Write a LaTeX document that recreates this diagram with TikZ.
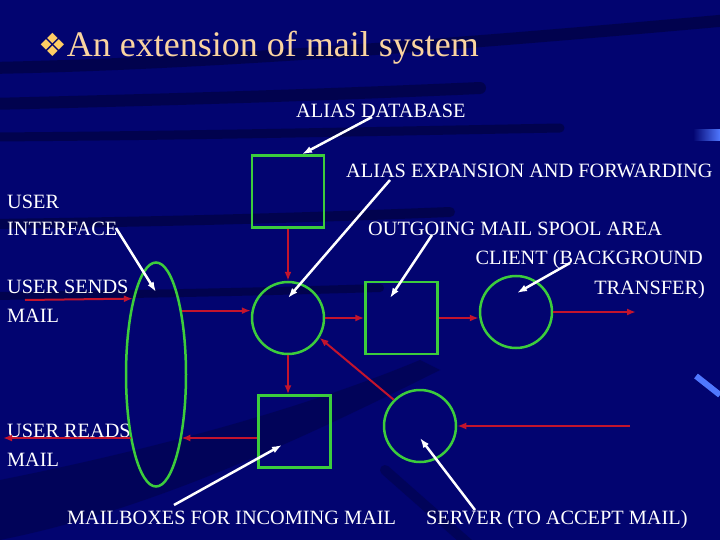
\documentclass[tikz,border=0pt]{standalone}
\usepackage{fontspec}
\setmainfont{Liberation Serif}
\newfontfamily\symfont{DejaVu Sans}
\usetikzlibrary{arrows.meta,shapes.geometric}
\definecolor{navy}{RGB}{2,4,112}
\definecolor{boxgreen}{RGB}{60,205,60}
\definecolor{flowred}{RGB}{195,20,45}
\definecolor{titlec}{RGB}{250,212,160}
\definecolor{bulletc}{RGB}{255,205,100}
\definecolor{glow}{RGB}{80,120,255}
\tikzset{
	box/.style={draw=boxgreen, line width=2.5pt, minimum size=72pt, inner sep=0pt},
	ring/.style={circle, box},
	flow/.style={->, draw=flowred, line width=2pt},
	pointer/.style={-{Latex[length=10pt,width=7pt]}, draw=white, line width=2.5pt},
	lbl/.style={text=white, inner sep=0pt, anchor=base west,
		font=\fontsize{20.3}{24}\selectfont},
}
\begin{document}
\begin{tikzpicture}[x=1pt, y=-1pt, >={Latex[length=9pt,width=7pt]}]
	% 背景
	\fill[navy] (0, 0) rectangle (720, 540);
	\useasboundingbox (0, 0) rectangle (720, 540);
	\begin{scope}[black, opacity=0.3, line cap=round]
		\draw[line width=12pt] (-10, 68) .. controls (200, 64) and (450, 45) .. (730, 20);
		\draw[line width=12pt] (-10, 104) .. controls (150, 100) and (300, 96) .. (480, 88);
		\draw[line width=9pt] (-10, 137) .. controls (150, 136) and (300, 133) .. (560, 128);
		\draw[line width=10pt] (-10, 224) .. controls (150, 222) and (300, 218) .. (450, 212);
		\draw[line width=8pt] (-10, 296) .. controls (150, 294) and (250, 292) .. (380, 288);
	\end{scope}
	\begin{scope}[black, opacity=0.2]
		\fill (0, 480) .. controls (150, 450) and (300, 410) .. (420, 360)
			-- (440, 370) .. controls (300, 440) and (150, 510) .. (0, 540) -- cycle;
		\draw[line width=10pt, line cap=round] (385, 470) -- (470, 545);
	\end{scope}
	\shade[left color=navy, right color=glow] (693, 130) rectangle (720, 141);
	\draw[glow, line width=6pt] (696, 376) -- (720, 395);
	% 文字
	\node[lbl, text=titlec, font=\fontsize{36}{40}\selectfont] (title) at (38, 57)
		{{\symfont\color{bulletc}\fontsize{32}{34}\selectfont ❖}An extension of mail system};
	\node[lbl] (aliasdb) at (296, 118) {ALIAS DATABASE};
	\node[lbl] (expand) at (346, 178) {ALIAS EXPANSION AND FORWARDING};
	\node[lbl] (ui1) at (7, 208) {USER};
	\node[lbl] (ui2) at (7, 236) {INTERFACE};
	\node[lbl] (spooltxt) at (368, 236) {OUTGOING MAIL SPOOL AREA};
	\node[lbl, anchor=base east] (cli1) at (703, 264) {CLIENT (BACKGROUND};
	\node[lbl, anchor=base east] (cli2) at (705, 294) {TRANSFER)};
	\node[lbl] (sends1) at (7, 293) {USER SENDS};
	\node[lbl] (sends2) at (7, 322) {MAIL};
	\node[lbl] (reads1) at (7, 437) {USER READS};
	\node[lbl] (reads2) at (7, 466) {MAIL};
	\node[lbl] (mboxtxt) at (67, 524) {MAILBOXES FOR INCOMING MAIL};
	\node[lbl] (servtxt) at (426, 524) {SERVER (TO ACCEPT MAIL)};
	% 方框, 圆和椭圆
	\node[box] (alias) at (288, 191.5) {};
	\node[ring] (c1) at (288, 318) {};
	\node[box] (spool) at (401.5, 318) {};
	\node[ring] (client) at (516, 312) {};
	\node[box] (mbox) at (294.5, 431.5) {};
	\node[ring] (server) at (420, 426) {};
	\node[ellipse, draw=boxgreen, line width=2.5pt, inner sep=0pt,
		minimum width=60pt, minimum height=224pt] (ui) at (156, 374.5) {};
	% 红色箭头
	\coordinate (sendin) at (25, 300);
	\coordinate (out) at (636, 312);
	\coordinate (in) at (630, 426);
	\coordinate (readout) at (3, 438);
	\coordinate (mboxout) at ([yshift=-6.5pt]mbox.west);
	\draw[flow] (alias) -- (c1);
	\draw[flow] (sendin) -- (ui.107);
	\draw[flow] (ui.68) -- (ui.68 -| c1.west);
	\draw[flow] (c1.east) -- (spool.west);
	\draw[flow] (spool.east) -- (spool.east -| client.west);
	\draw[flow] (client.east) -- (out);
	\draw[flow] (server.135) -- (c1.-32);
	\draw[flow] (c1.south) -- (c1.south |- mbox.north);
	\draw[flow] (in) -- (server.east);
	\draw[flow] (mboxout) -- (mboxout -| ui.291);
	\draw[flow] (mboxout -| ui.249) -- (readout);
	% 白色指示箭头
	\coordinate (pa) at (372, 117);
	\coordinate (pb) at (116, 228);
	\coordinate (pc) at (390, 180);
	\coordinate (pd) at (432, 235);
	\coordinate (pe) at (570, 263);
	\coordinate (pf) at (174, 505);
	\coordinate (pg) at (475, 510);
	\draw[pointer] (pa) -- ([xshift=14pt]alias.north);
	\draw[pointer] (pb) -- ([yshift=82.5pt]ui.center);
	\draw[pointer] (pc) -- ([yshift=20pt]c1.center);
	\draw[pointer] (pd) -- ([xshift=-11.5pt, yshift=20pt]spool.center);
	\draw[pointer] (pe) -- ([xshift=1pt, yshift=19pt]client.center);
	\draw[pointer] (pf) -- ([xshift=-12.5pt, yshift=-13.5pt]mbox.center);
	\draw[pointer] (pg) -- ([yshift=-12pt]server.center);
\end{tikzpicture}
\end{document}
